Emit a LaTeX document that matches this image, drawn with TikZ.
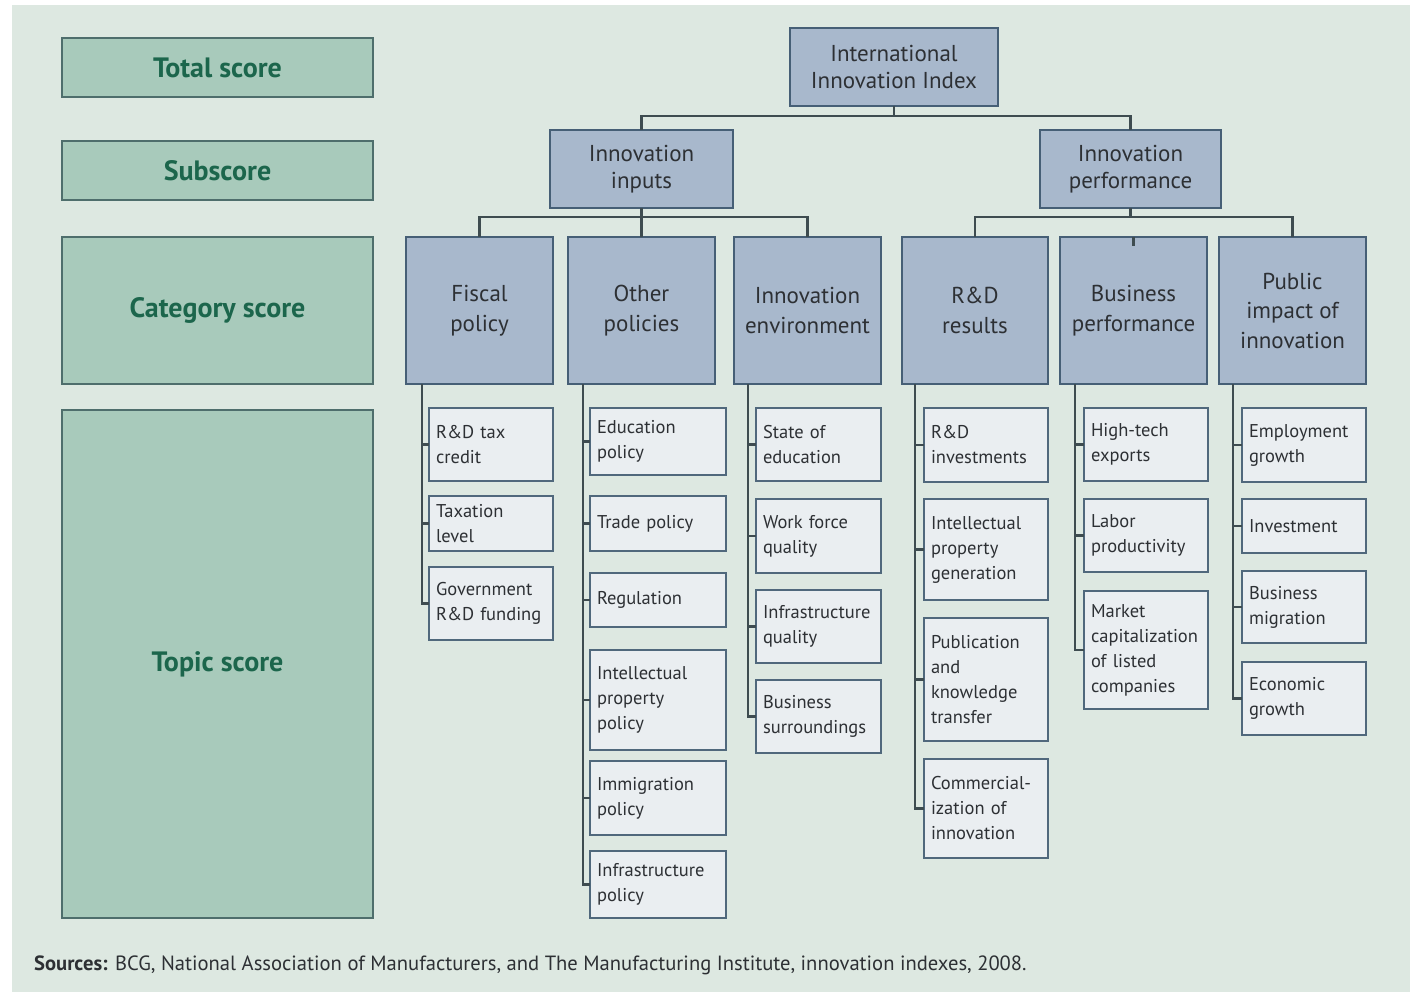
\documentclass[tikz,border=0pt]{standalone}
\usepackage{fontspec}
\setmainfont{PT Sans}
\definecolor{bgcol}{RGB}{221,232,225}
\definecolor{legfill}{RGB}{168,202,187}
\definecolor{legdraw}{RGB}{78,110,108}
\definecolor{legtext}{RGB}{28,102,76}
\definecolor{catfill}{RGB}{168,184,204}
\definecolor{catdraw}{RGB}{70,95,118}
\definecolor{topfill}{RGB}{234,238,241}
\definecolor{topdraw}{RGB}{80,104,124}
\definecolor{linkcol}{RGB}{62,76,80}
\definecolor{inkcol}{RGB}{45,48,52}

% box from corner (x1,y1) to (x2,y2), in pixel-like units
\newcommand\bx[7]{%
  \pgfmathsetmacro\bw{#5-#3}\pgfmathsetmacro\bh{#6-#4}%
  \pgfmathsetmacro\bcx{(#3+#5)/2}\pgfmathsetmacro\bcy{(#4+#6)/2}%
  \pgfmathsetmacro\btw{#5-#3-14}%
  \node[#1, minimum width=\bw pt, minimum height=\bh pt] (#2) at (\bcx,\bcy) {#7};}

\tikzset{
  legbox/.style={draw=legdraw, fill=legfill, line width=2pt, inner sep=0pt, outer sep=0pt,
    text=legtext, font=\fontsize{28}{32}\selectfont\bfseries},
  headbox/.style={draw=catdraw, fill=catfill, line width=2pt, inner sep=0pt, outer sep=0pt,
    text=inkcol, align=center, font=\fontsize{23}{27}\selectfont},
  catbox/.style={draw=catdraw, fill=catfill, line width=2pt, inner sep=0pt, outer sep=0pt,
    text=inkcol, align=center, font=\fontsize{23}{29.5}\selectfont},
  topbox/.style={draw=topdraw, fill=topfill, line width=2pt, inner sep=0pt, outer sep=0pt,
    text=inkcol, align=left, text width=\btw pt, font=\fontsize{18.5}{25}\selectfont},
  link/.style={draw=linkcol, line width=2.2pt},
}

\begin{document}
\hyphenpenalty=10000
\exhyphenpenalty=10000
\begin{tikzpicture}[x=1pt,y=-1pt]
\useasboundingbox (0,0) rectangle (1410,992);
\fill[white] (0,0) rectangle (1410,992);
\fill[bgcol] (12,5) rectangle (1410,992);

% legend column
\bx{legbox}{lTotal}{62}{38}{373}{97}{Total score}
\bx{legbox}{lSub}{62}{141}{373}{200}{Subscore}
\bx{legbox}{lCat}{62}{237}{373}{384}{Category score}
\bx{legbox}{lTop}{62}{410}{373}{918}{Topic score}

% total and subscores
\bx{headbox}{iii}{790}{28}{998}{106}{International\\Innovation Index}
\bx{headbox}{inp}{550}{130}{733}{208}{Innovation\\inputs}
\bx{headbox}{perf}{1040}{130}{1221}{208}{Innovation\\performance}

% categories
\bx{catbox}{fis}{406}{237}{553}{384}{Fiscal\\policy}
\bx{catbox}{oth}{568}{237}{715}{384}{Other\\policies}
\bx{catbox}{env}{734}{237}{881}{384}{Innovation\\environment}
\bx{catbox}{rdr}{902}{237}{1048}{384}{R\&D\\results}
\bx{catbox}{bus}{1060}{237}{1207}{384}{Business\\performance}
\bx{catbox}{pub}{1219}{237}{1366}{384}{Public\\impact of\\innovation}

% topics: fiscal policy
\bx{topbox}{f1}{429}{408}{553}{481}{R\&D tax\\credit}
\bx{topbox}{f2}{429}{496}{553}{551}{Taxation\\level}
\bx{topbox}{f3}{429}{567}{553}{640}{Government\\R\&D funding}
% topics: other policies
\bx{topbox}{o1}{590}{408}{726}{475}{Education\\policy}
\bx{topbox}{o2}{590}{496}{726}{551}{Trade policy}
\bx{topbox}{o3}{590}{573}{726}{627}{Regulation}
\bx{topbox}{o4}{590}{650}{726}{750}{Intellectual\\property\\policy}
\bx{topbox}{o5}{590}{761}{726}{835}{Immigration\\policy}
\bx{topbox}{o6}{590}{851}{726}{918}{Infrastructure\\policy}
% topics: innovation environment
\bx{topbox}{e1}{756}{408}{881}{481}{State of\\education}
\bx{topbox}{e2}{756}{499}{881}{573}{Work force\\quality}
\bx{topbox}{e3}{756}{590}{881}{663}{Infrastructure\\quality}
\bx{topbox}{e4}{756}{680}{881}{753}{Business\\surroundings}
% topics: R&D results
\bx{topbox}{r1}{924}{408}{1048}{482}{R\&D\\investments}
\bx{topbox}{r2}{924}{499}{1048}{600}{Intellectual\\property\\generation}
\bx{topbox}{r3}{924}{618}{1048}{741}{Publication\\and\\knowledge\\transfer}
\bx{topbox}{r4}{924}{759}{1048}{858}{Commercial-\\ization of\\innovation}
% topics: business performance
\bx{topbox}{b1}{1084}{408}{1208}{481}{High-tech\\exports}
\bx{topbox}{b2}{1084}{499}{1208}{572}{Labor\\productivity}
\bx{topbox}{b3}{1084}{591}{1208}{709}{Market\\capitalization\\of listed\\companies}
% topics: public impact
\bx{topbox}{p1}{1242}{408}{1366}{482}{Employment\\growth}
\bx{topbox}{p2}{1242}{499}{1366}{553}{Investment}
\bx{topbox}{p3}{1242}{571}{1366}{643}{Business\\migration}
\bx{topbox}{p4}{1242}{662}{1366}{735}{Economic\\growth}

% tree connectors: top levels
\coordinate (jTop) at ([yshift=-10pt]iii.south);
\draw[link] (iii.south) -- (jTop);
\draw[link] (inp.north) |- (jTop) -| (perf.north);
\coordinate (jInp) at ([yshift=-9pt]inp.south);
\draw[link] (inp.south) -- (jInp);
\draw[link] (fis.north) |- (jInp) -| (env.north);
\draw[link] (oth.north) -- (jInp);
\coordinate (jPerf) at ([yshift=-9pt]perf.south);
\draw[link] (perf.south) -- (jPerf);
\draw[link] (rdr.north) |- (jPerf) -| (pub.north);
\draw[link] (bus.north) -- ([yshift=-9pt]bus.north);

% tree connectors: categories to topics
\coordinate (sFis) at ([xshift=16pt]fis.south west);
\coordinate (sOth) at ([xshift=15pt]oth.south west);
\coordinate (sEnv) at ([xshift=14pt]env.south west);
\coordinate (sRdr) at ([xshift=13pt]rdr.south west);
\coordinate (sBus) at ([xshift=15pt]bus.south west);
\coordinate (sPub) at ([xshift=14pt]pub.south west);
\foreach \t in {f1,f2,f3} \draw[link] (sFis) |- (\t.west);
\foreach \t in {o1,o2,o3,o4,o5,o6} \draw[link] (sOth) |- (\t.west);
\foreach \t in {e1,e2,e3,e4} \draw[link] (sEnv) |- (\t.west);
\foreach \t in {r1,r2,r3,r4} \draw[link] (sRdr) |- (\t.west);
\foreach \t in {b1,b2,b3} \draw[link] (sBus) |- (\t.west);
\foreach \t in {p1,p2,p3,p4} \draw[link] (sPub) |- (\t.west);

% source line
\node[anchor=west, inner sep=0pt, text=inkcol, font=\fontsize{20.6}{24}\selectfont] (src) at (34,965)
  {\textbf{Sources:} BCG, National Association of Manufacturers, and The Manufacturing Institute, innovation indexes, 2008.};
\end{tikzpicture}
\end{document}
